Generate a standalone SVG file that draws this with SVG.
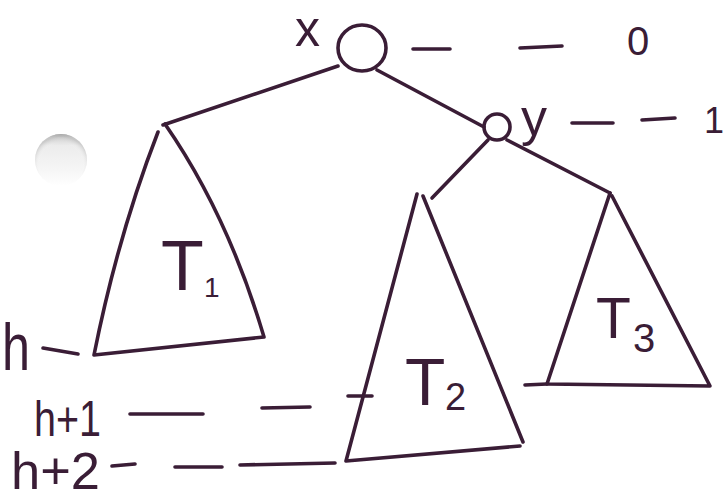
<svg xmlns="http://www.w3.org/2000/svg" width="725" height="501" viewBox="0 0 725 501">
<defs>
<style>
.ink{fill:none;stroke:#3a1d36;stroke-width:3.6;stroke-linecap:round;stroke-linejoin:round}
.lbl{font-family:"Liberation Sans","DejaVu Sans",sans-serif;fill:#3a1d36}
</style>
<linearGradient id="btn" x1="0" y1="0" x2="0" y2="1">
<stop offset="0" stop-color="#8c8c8c"/>
<stop offset="0.07" stop-color="#cfcfcf"/>
<stop offset="0.22" stop-color="#ececec"/>
<stop offset="0.7" stop-color="#f6f6f6"/>
<stop offset="1" stop-color="#ffffff"/>
</linearGradient>
<radialGradient id="btn2" cx="0.5" cy="0.6" r="0.55">
<stop offset="0.75" stop-color="#ffffff" stop-opacity="0"/>
<stop offset="1" stop-color="#bdbdbd" stop-opacity="0.6"/>
</radialGradient>
</defs>
<rect width="725" height="501" fill="#ffffff"/>
<g id="punch-hole">
<circle cx="61" cy="160" r="26" fill="url(#btn)"/>
<circle cx="61" cy="160" r="26" fill="url(#btn2)"/>
</g>
<g id="connectors">
<path class="ink" d="M338,66 L163,125"/>
<path class="ink" d="M377,70 L484,127"/>
<path class="ink" d="M488,140 L432,198"/>
<path class="ink" d="M507,140 L610,193"/>
</g>
<g id="node-x">
<ellipse class="ink" cx="362" cy="48" rx="24" ry="23"/>
<text class="lbl" x="295" y="46" font-size="50">x</text>
</g>
<g id="node-y">
<circle class="ink" cx="497" cy="127" r="13"/>
<text class="lbl" x="521" y="135" font-size="52">y</text>
</g>
<g id="subtree-T1">
<path class="ink" d="M165,124 Q228,215 264,337 M158,132 Q118,235 94,355 L264,337"/>
<text class="lbl" x="161" y="290" font-size="70">T</text>
<text class="lbl" x="204" y="297" font-size="28">1</text>
</g>
<g id="subtree-T2">
<path class="ink" d="M417,194 L346,461 L520,446 M423,196 L523,442"/>
<text class="lbl" x="405" y="405" font-size="66">T</text>
<text class="lbl" x="445" y="410" font-size="38">2</text>
</g>
<g id="subtree-T3">
<path class="ink" d="M610,193 L547,384 L710,386 L612,196"/>
<text class="lbl" x="596" y="338" font-size="57">T</text>
<text class="lbl" x="633" y="352" font-size="40">3</text>
</g>
<g id="levels">
<path class="ink" d="M413,49 L450,49 M520,48 L562,46"/>
<text class="lbl" x="638" y="55" font-size="40" text-anchor="middle">0</text>
<path class="ink" d="M572,123 L613,123 M642,120 L675,118"/>
<text class="lbl" x="724" y="133" font-size="36" text-anchor="end">1</text>
<text class="lbl" x="2" y="370" font-size="66" textLength="28" lengthAdjust="spacingAndGlyphs">h</text>
<path class="ink" d="M43,348 L78,354"/>
<text class="lbl" x="34" y="436" font-size="50" textLength="67" lengthAdjust="spacingAndGlyphs">h+1</text>
<path class="ink" d="M130,414 L203,414 M262,408 L310,407 M348,396 L372,396"/>
<text class="lbl" x="11" y="489" font-size="52" textLength="89" lengthAdjust="spacingAndGlyphs">h+2</text>
<path class="ink" d="M112,466 L135,464 M175,467 L222,467 M240,465 L335,463"/>
<path class="ink" d="M525,385 L547,384"/>
</g>
</svg>
